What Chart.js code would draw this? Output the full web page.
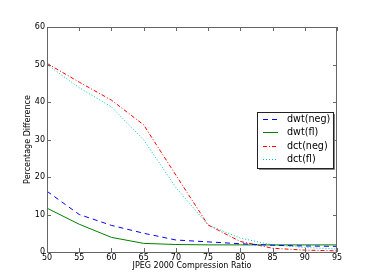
<!DOCTYPE html>
<html>
<head>
<meta charset="utf-8">
<script src="https://cdn.jsdelivr.net/npm/chart.js@4"></script>
<style>
  html, body { margin: 0; padding: 0; background: #fff; }
  #wrap { width: 374px; height: 280px; }
</style>
</head>
<body>
<div id="wrap"><canvas id="c" width="374" height="280"></canvas></div>
<script>
// data
const ratios   = [50, 55, 60, 65, 70, 75, 80, 85, 90, 95];
const dwtNeg   = [16.2, 10.0, 7.1, 5.0, 3.2, 2.7, 2.2, 1.8, 1.6, 1.5];
const dwtFl    = [11.7, 7.4, 3.9, 2.3, 2.0, 1.9, 1.9, 1.9, 1.9, 1.9];
const dctNeg   = [50.3, 45.3, 40.5, 33.9, 20.5, 7.2, 2.8, 1.0, 0.5, 0.3];
const dctFl    = [50.0, 43.8, 38.7, 29.9, 17.2, 7.2, 3.7, 1.9, 1.2, 0.8];
const yTicks   = [0, 10, 20, 30, 40, 50, 60];

const FONT = 'DejaVu Sans';
const FRAME = '#666';

const pts = arr => arr.map((v, i) => ({ x: ratios[i], y: v }));

// matplotlib-like inward ticks + top/right frame
const frameTicks = {
  id: 'frameTicks',
  afterDraw(chart) {
    const { ctx, chartArea: a, scales: { x, y } } = chart;
    ctx.save();
    ctx.strokeStyle = FRAME; ctx.lineWidth = 1;
    ctx.strokeRect(a.left + 0.5, a.top + 0.5, a.right - a.left - 1, a.bottom - a.top);
    ctx.beginPath();
    ratios.forEach(v => {
      const px = Math.round(x.getPixelForValue(v)) + 0.5;
      ctx.moveTo(px, a.bottom); ctx.lineTo(px, a.bottom - 4);
      ctx.moveTo(px, a.top); ctx.lineTo(px, a.top + 4);
    });
    yTicks.forEach(v => {
      const py = Math.round(y.getPixelForValue(v)) + 0.5;
      ctx.moveTo(a.left, py); ctx.lineTo(a.left + 4, py);
      ctx.moveTo(a.right, py); ctx.lineTo(a.right - 4, py);
    });
    ctx.stroke();
    ctx.restore();
  }
};

// legend box inside the plot, right side
const insideLegend = {
  id: 'insideLegend',
  afterDraw(chart) {
    const { ctx } = chart;
    const bx = 257, by = 112, bw = 76, bh = 56;
    ctx.save();
    ctx.fillStyle = '#888';
    ctx.fillRect(bx + 2, by + 2, bw, bh);
    ctx.fillStyle = '#fff';
    ctx.fillRect(bx, by, bw, bh);
    ctx.strokeStyle = '#222'; ctx.lineWidth = 1;
    ctx.strokeRect(bx + 0.5, by + 0.5, bw, bh);
    ctx.font = '9.6px "' + FONT + '"';
    ctx.textBaseline = 'middle';
    chart.data.datasets.forEach((ds, i) => {
      const ry = Math.round(by + 7 + i * 13.4) + 0.5;
      ctx.strokeStyle = ds.borderColor;
      ctx.lineWidth = 1;
      ctx.setLineDash(ds.borderDash || []);
      ctx.beginPath(); ctx.moveTo(bx + 6, ry); ctx.lineTo(bx + 21, ry); ctx.stroke();
      ctx.setLineDash([]);
      ctx.fillStyle = '#000';
      ctx.fillText(ds.label, bx + 30, ry);
    });
    ctx.restore();
  }
};

new Chart(document.getElementById('c').getContext('2d'), {
  type: 'line',
  data: {
    datasets: [
      { label: 'dwt(neg)', data: pts(dwtNeg), borderColor: '#0000ff', borderDash: [5, 4] },
      { label: 'dwt(fl)',  data: pts(dwtFl),  borderColor: '#008000' },
      { label: 'dct(neg)', data: pts(dctNeg), borderColor: '#ff0000', borderDash: [4, 2, 1, 2] },
      { label: 'dct(fl)',  data: pts(dctFl),  borderColor: '#00bfbf', borderDash: [1, 2] }
    ].map(d => Object.assign({ borderWidth: 1, pointRadius: 0, fill: false, tension: 0 }, d))
  },
  options: {
    responsive: false,
    animation: false,
    layout: { padding: { left: 0, top: 27, right: 37, bottom: 0 } },
    plugins: { legend: { display: false }, tooltip: { enabled: false } },
    scales: {
      x: {
        type: 'linear', min: 50, max: 95,
        afterFit: s => { s.height = 28; },
        ticks: { stepSize: 5, padding: 1, color: '#000', font: { family: FONT, size: 8 } },
        grid: { display: false, drawTicks: false },
        border: { display: false },
        title: { display: true, text: 'JPEG 2000 Compression Ratio', color: '#000', padding: { top: 0, bottom: 9 }, font: { family: FONT, size: 8 } }
      },
      y: {
        min: 0, max: 60,
        afterFit: s => { s.width = 47; },
        ticks: { stepSize: 10, padding: 2, color: '#000', font: { family: FONT, size: 8 } },
        grid: { display: false, drawTicks: false },
        border: { display: false },
        title: { display: true, text: 'Percentage Difference', color: '#000', padding: { top: 23, bottom: 0 }, font: { family: FONT, size: 8 } }
      }
    }
  },
  plugins: [frameTicks, insideLegend]
});
</script>
</body>
</html>
